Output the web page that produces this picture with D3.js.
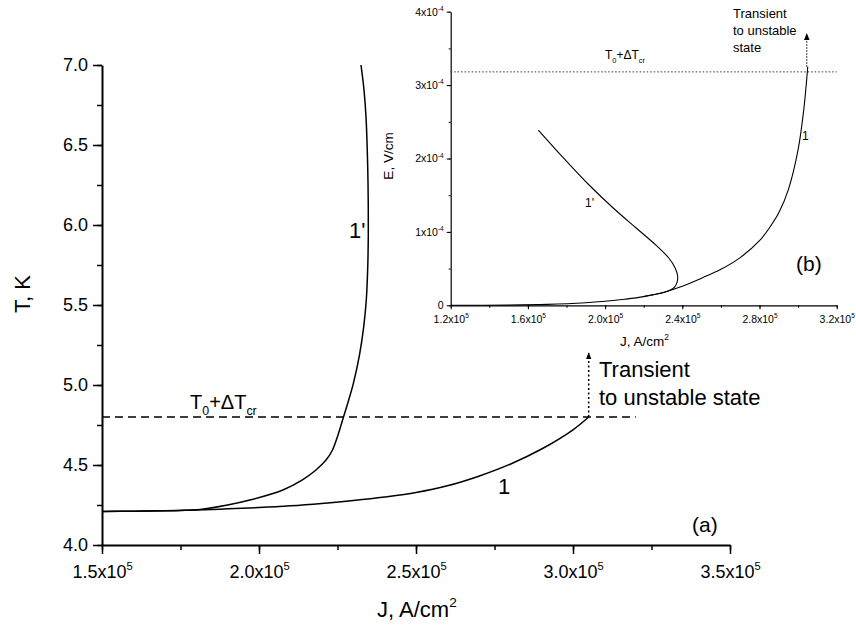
<!DOCTYPE html>
<html>
<head>
<meta charset="utf-8">
<script src="https://cdn.jsdelivr.net/npm/d3@7"></script>
<style>
  body { margin: 0; background: #fff; }
  svg { display: block; font-family: "Liberation Sans", Arial, sans-serif; }
</style>
</head>
<body>
<svg id="chart" width="856" height="626"></svg>
<script>
// ---- data: main plot (a), J in A/cm2, T in K
var mainXTicks = [1.5e5, 2.0e5, 2.5e5, 3.0e5, 3.5e5];
var mainYTicks = [4.0, 4.5, 5.0, 5.5, 6.0, 6.5, 7.0];
var curve1 = [
  [1.50e5, 4.210], [1.60e5, 4.211], [1.70e5, 4.214], [1.80e5, 4.219], [1.90e5, 4.226],
  [2.00e5, 4.234], [2.10e5, 4.245], [2.20e5, 4.260], [2.30e5, 4.278], [2.40e5, 4.300],
  [2.50e5, 4.328], [2.60e5, 4.370], [2.70e5, 4.430], [2.80e5, 4.505], [2.90e5, 4.600],
  [3.00e5, 4.720], [3.05e5, 4.800]
];
var curve1p = [
  [1.50e5, 4.210], [1.60e5, 4.211], [1.70e5, 4.214], [1.75e5, 4.216], [1.812e5, 4.222],
  [1.90e5, 4.250], [1.971e5, 4.281], [2.076e5, 4.344], [2.137e5, 4.406], [2.1815e5, 4.469],
  [2.2134e5, 4.531], [2.2341e5, 4.594], [2.2516e5, 4.688], [2.2691e5, 4.800], [2.2857e5, 4.906],
  [2.3010e5, 5.013], [2.3201e5, 5.188], [2.3334e5, 5.363], [2.3417e5, 5.531], [2.3465e5, 5.750],
  [2.3481e5, 5.950], [2.3478e5, 6.156], [2.3462e5, 6.363], [2.3408e5, 6.675], [2.3344e5, 6.844],
  [2.3248e5, 7.000]
];
var mainCrit = 4.8, mainCritEnd = 3.2e5;
var mainArrow = [[3.05e5, 4.8], [3.05e5, 5.2]];

// ---- data: inset (b), J in A/cm2, E in V/cm
var insetXTicks = [1.2e5, 1.6e5, 2.0e5, 2.4e5, 2.8e5, 3.2e5];
var insetYTicks = [0, 1e-4, 2e-4, 3e-4, 4e-4];
var insetCurve1 = [
  [1.20e5, 0], [1.50e5, 0.003e-4], [1.70e5, 0.012e-4], [1.90e5, 0.035e-4], [2.00e5, 0.055e-4],
  [2.10e5, 0.082e-4], [2.20e5, 0.118e-4], [2.30e5, 0.175e-4], [2.40e5, 0.260e-4], [2.50e5, 0.370e-4],
  [2.60e5, 0.490e-4], [2.70e5, 0.650e-4], [2.80e5, 0.880e-4], [2.85e5, 1.050e-4], [2.90e5, 1.260e-4],
  [2.95e5, 1.580e-4], [3.00e5, 2.120e-4], [3.03e5, 2.680e-4], [3.05e5, 3.250e-4]
];
var insetCurve1p = [
  [1.654e5, 2.388e-4], [1.794e5, 1.980e-4], [1.917e5, 1.639e-4], [2.042e5, 1.326e-4], [2.161e5, 1.053e-4],
  [2.262e5, 0.822e-4], [2.330e5, 0.644e-4], [2.363e5, 0.508e-4], [2.376e5, 0.399e-4], [2.373e5, 0.317e-4],
  [2.360e5, 0.249e-4], [2.330e5, 0.198e-4], [2.290e5, 0.164e-4], [2.233e5, 0.138e-4], [2.20e5, 0.119e-4]
];
var insetCrit = 3.18e-4;
var insetArrow = [[3.045e5, 3.25e-4], [3.045e5, 3.70e-4]];

var svg = d3.select('#chart');

svg.append('defs').append('marker')
  .attr('id', 'arr')
  .attr('viewBox', '0 -5 10 10')
  .attr('refX', 9)
  .attr('markerWidth', 7)
  .attr('markerHeight', 7)
  .attr('markerUnits', 'userSpaceOnUse')
  .attr('orient', 'auto')
  .append('path')
  .attr('d', 'M0,-4L10,0L0,4Z')
  .attr('fill', '#000');

// superscript / subscript helper: parts = [[text, kind], ...]
function richText(sel, parts, size) {
  sel.text(null);
  parts.forEach(function (p) {
    var t = sel.append('tspan').text(p[0]);
    if (p[1] === 'sup') t.attr('font-size', size * 0.62).attr('dy', -size * 0.45);
    else if (p[1] === 'sub') t.attr('font-size', size * 0.62).attr('dy', size * 0.3);
    else if (p[1] === 'back') t.attr('dy', -size * 0.3);
  });
}

function sciParts(v, expFixed) {
  if (v === 0) return [['0']];
  var e = Math.floor(Math.log10(Math.abs(v)) + 1e-9);
  var m = v / Math.pow(10, e);
  return [[expFixed ? m.toFixed(1) + 'x10' : Math.round(m) + 'x10'], [String(e), 'sup']];
}

function minorTicks(a, b, step) { return d3.range(a, b + step / 2, step); }

// axis helper: minor ticks + major ticks, labels built by fmt(sel, d)
function drawAxis(g, axisFn, scale, minor, major, minorLen, majorLen, pad, width, fmt) {
  g.call(axisFn(scale).tickValues(minor).tickSize(minorLen).tickFormat('').tickSizeOuter(0));
  var m = g.append('g').call(axisFn(scale).tickValues(major).tickSize(majorLen).tickPadding(pad)
    .tickSizeOuter(0).tickFormat(function () { return ''; }));
  m.select('.domain').remove();
  g.selectAll('g').attr('font-family', null).attr('font-size', null);
  g.attr('font-family', null).attr('font-size', null);
  g.select('.domain').attr('stroke', '#000').attr('stroke-width', width);
  g.selectAll('.tick line').attr('stroke', '#000').attr('stroke-width', Math.max(1, width * 0.75));
  m.selectAll('.tick text').attr('fill', '#000').each(function (d) { fmt(d3.select(this), d); });
}

// ================= main plot (a) =================
var x = d3.scaleLinear().domain([1.5e5, 3.5e5]).range([102, 730]);
var y = d3.scaleLinear().domain([4, 7]).range([545, 65]);

drawAxis(svg.append('g').attr('transform', 'translate(0,545)'), d3.axisBottom, x,
  minorTicks(1.5e5, 3.5e5, 0.25e5), mainXTicks, 5, 9, 11, 2,
  function (t, d) { t.attr('font-size', 18); richText(t, sciParts(d, true), 18); });
drawAxis(svg.append('g').attr('transform', 'translate(102,0)'), d3.axisLeft, y,
  minorTicks(4, 7, 0.25), mainYTicks, 5, 9, 5, 2,
  function (t, d) { t.attr('font-size', 18).text(d3.format('.1f')(d)); });

var line = d3.line().x(function (d) { return x(d[0]); }).y(function (d) { return y(d[1]); })
  .curve(d3.curveCatmullRom.alpha(0.5));

svg.append('line')
  .attr('x1', x(1.5e5)).attr('x2', x(mainCritEnd))
  .attr('y1', y(mainCrit)).attr('y2', y(mainCrit))
  .attr('stroke', '#000').attr('stroke-width', 1.3).attr('stroke-dasharray', '8,5');

svg.append('path').datum(curve1).attr('d', line)
  .attr('fill', 'none').attr('stroke', '#000').attr('stroke-width', 1.5);
svg.append('path').datum(curve1p).attr('d', line)
  .attr('fill', 'none').attr('stroke', '#000').attr('stroke-width', 1.5);

svg.append('line')
  .attr('x1', x(mainArrow[0][0])).attr('x2', x(mainArrow[1][0]))
  .attr('y1', y(mainArrow[0][1])).attr('y2', y(mainArrow[1][1]))
  .attr('stroke', '#000').attr('stroke-width', 1.5).attr('stroke-dasharray', '2,2.5')
  .attr('marker-end', 'url(#arr)');

// main labels
svg.append('text').attr('transform', 'translate(30,294) rotate(-90)')
  .attr('text-anchor', 'middle').attr('font-size', 22).text('T, K');
richText(svg.append('text').attr('x', 377).attr('y', 617).attr('font-size', 22),
  [['J, A/cm'], ['2', 'sup']], 22);
richText(svg.append('text').attr('x', 190).attr('y', 409).attr('font-size', 20),
  [['T'], ['0', 'sub'], ['+\u0394T', 'back'], ['cr', 'sub']], 20);
svg.append('text').attr('x', 599).attr('y', 377).attr('font-size', 22).text('Transient');
svg.append('text').attr('x', 599).attr('y', 405).attr('font-size', 22).text('to unstable state');
svg.append('text').attr('x', 498).attr('y', 494).attr('font-size', 22).text('1');
svg.append('text').attr('x', 349).attr('y', 238).attr('font-size', 22).text("1'");
svg.append('text').attr('x', 692).attr('y', 532).attr('font-size', 21).text('(a)');

// ================= inset (b) =================
var ix = d3.scaleLinear().domain([1.2e5, 3.2e5]).range([450.7, 836.7]);
var iy = d3.scaleLinear().domain([0, 4e-4]).range([305.3, 11.7]);

drawAxis(svg.append('g').attr('transform', 'translate(0,305.3)'), d3.axisBottom, ix,
  minorTicks(1.2e5, 3.2e5, 0.2e5), insetXTicks, 2.5, 4, 6, 1.2,
  function (t, d) { t.attr('font-size', 10.5); richText(t, sciParts(d, true), 10.5); });
drawAxis(svg.append('g').attr('transform', 'translate(450.7,0)'), d3.axisLeft, iy,
  minorTicks(0, 4e-4, 0.5e-4), insetYTicks, 2, 4, 3, 1.2,
  function (t, d) { t.attr('font-size', 10.5); richText(t, sciParts(d, false), 10.5); });

var iline = d3.line().x(function (d) { return ix(d[0]); }).y(function (d) { return iy(d[1]); })
  .curve(d3.curveCatmullRom.alpha(0.5));

svg.append('line')
  .attr('x1', ix(1.2e5)).attr('x2', ix(3.2e5))
  .attr('y1', iy(insetCrit)).attr('y2', iy(insetCrit))
  .attr('stroke', '#333').attr('stroke-width', 1).attr('stroke-dasharray', '1.5,2');

svg.append('path').datum(insetCurve1).attr('d', iline)
  .attr('fill', 'none').attr('stroke', '#000').attr('stroke-width', 1.1);
svg.append('path').datum(insetCurve1p).attr('d', iline)
  .attr('fill', 'none').attr('stroke', '#000').attr('stroke-width', 1.1);

svg.append('line')
  .attr('x1', ix(insetArrow[0][0])).attr('x2', ix(insetArrow[1][0]))
  .attr('y1', iy(insetArrow[0][1])).attr('y2', iy(insetArrow[1][1]))
  .attr('stroke', '#000').attr('stroke-width', 1).attr('stroke-dasharray', '1.5,1.5')
  .attr('marker-end', 'url(#arr)');

// inset labels
svg.append('text').attr('transform', 'translate(393,156) rotate(-90)')
  .attr('text-anchor', 'middle').attr('font-size', 13.5).text('E, V/cm');
richText(svg.append('text').attr('x', 620).attr('y', 346).attr('font-size', 13.5),
  [['J, A/cm'], ['2', 'sup']], 13.5);
richText(svg.append('text').attr('x', 605).attr('y', 59).attr('font-size', 12),
  [['T'], ['0', 'sub'], ['+\u0394T', 'back'], ['cr', 'sub']], 12);
svg.append('text').attr('x', 733).attr('y', 18).attr('font-size', 13).text('Transient');
svg.append('text').attr('x', 733).attr('y', 35).attr('font-size', 13).text('to unstable');
svg.append('text').attr('x', 733).attr('y', 52).attr('font-size', 13).text('state');
svg.append('text').attr('x', 585).attr('y', 207).attr('font-size', 12).text("1'");
svg.append('text').attr('x', 802).attr('y', 140).attr('font-size', 12).text('1');
svg.append('text').attr('x', 796).attr('y', 271).attr('font-size', 21).text('(b)');
</script>
</body>
</html>
